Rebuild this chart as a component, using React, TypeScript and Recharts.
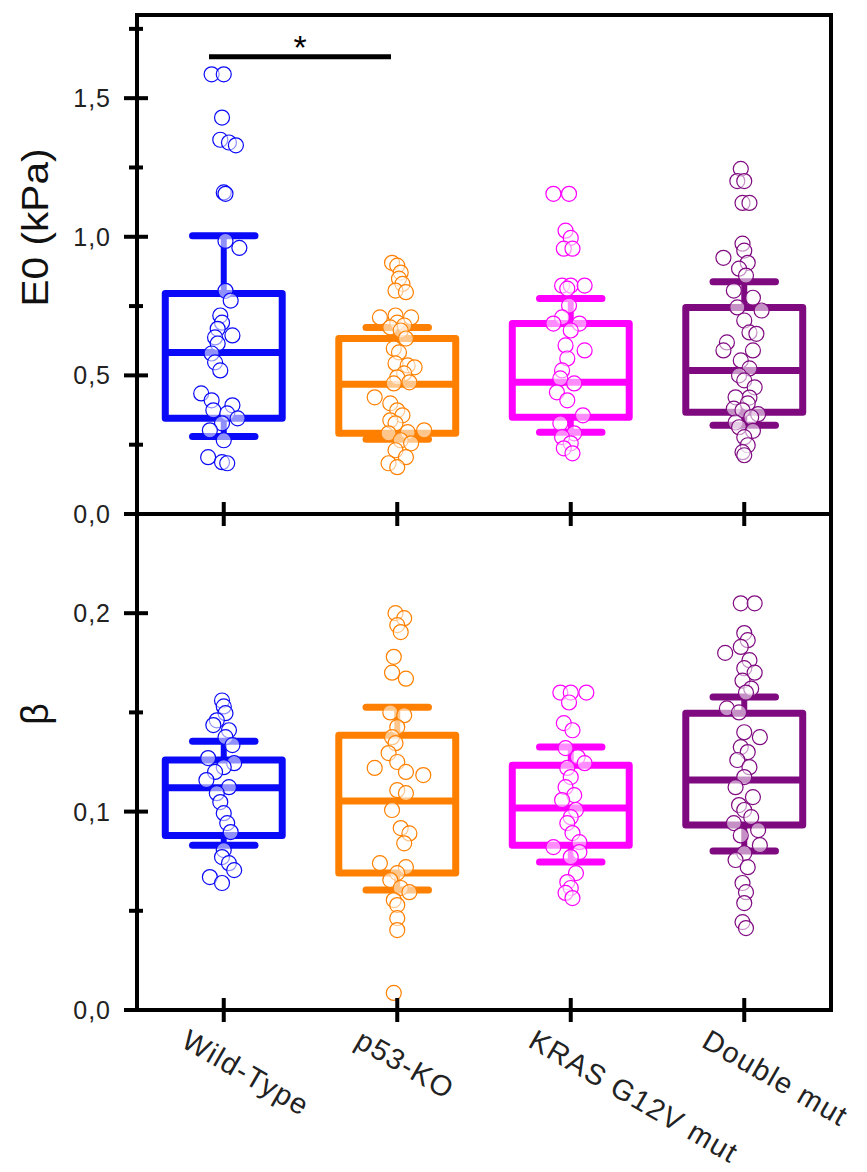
// Two stacked box plots (E0 and beta) with jittered raw points per cell line.
import { ComposedChart, Scatter, XAxis, YAxis, ReferenceArea, ReferenceLine } from 'recharts';

const groups = ['Wild-Type', 'p53-KO', 'KRAS G12V mut', 'Double mut'];
const colors = ['#0a0af8', '#ff8000', '#ff00ff', '#7f0a80'];

const e0Ticks = [0, 0.25, 0.5, 0.75, 1, 1.25, 1.5, 1.75];
const betaTicks = [0, 0.05, 0.1, 0.15, 0.2];

// box stats
const e0Q1 = [0.345, 0.291, 0.349, 0.367];
const e0Median = [0.583, 0.468, 0.475, 0.518];
const e0Q3 = [0.795, 0.633, 0.687, 0.745];
const e0Low = [0.28, 0.27, 0.295, 0.32];
const e0High = [1.004, 0.673, 0.777, 0.838];

const betaQ1 = [0.088, 0.069, 0.083, 0.0932];
const betaMedian = [0.112, 0.1053, 0.1018, 0.1159];
const betaQ3 = [0.126, 0.1385, 0.1234, 0.1496];
const betaLow = [0.083, 0.0605, 0.0746, 0.0801];
const betaHigh = [0.1355, 0.1526, 0.1325, 0.1577];

// raw points: [jitter, value]
const wtE0 = [
  [-0.07, 1.586], [0, 1.586], [-0.01, 1.43], [-0.02, 1.35], [0.03, 1.34], [0.07, 1.33], [0, 1.16], [0.01, 1.155],
  [0.01, 0.985], [0.09, 0.96], [0.01, 0.805], [0.04, 0.77], [-0.02, 0.716], [-0.01, 0.69], [-0.035, 0.668],
  [-0.05, 0.637], [0.05, 0.644], [-0.035, 0.615], [-0.07, 0.579], [-0.05, 0.547], [-0.02, 0.518], [-0.13, 0.435],
  [-0.07, 0.41], [0.05, 0.392], [-0.06, 0.374], [0.02, 0.363], [0.08, 0.345], [-0.01, 0.327], [-0.08, 0.302],
  [0, 0.266], [-0.09, 0.205], [-0.01, 0.187], [0.02, 0.183],
];
const p53E0 = [
  [-0.03, 0.906], [0, 0.896], [0.02, 0.871], [0.01, 0.849], [0.03, 0.83], [-0.01, 0.806], [0.05, 0.8],
  [-0.1, 0.709], [-0.01, 0.716], [0.08, 0.709], [0, 0.69], [0.04, 0.68], [-0.04, 0.673], [0.02, 0.662],
  [0.05, 0.633], [-0.02, 0.597], [0.01, 0.583], [-0.01, 0.543], [0.06, 0.536], [0.1, 0.529], [0.04, 0.507],
  [0, 0.493], [0.07, 0.475], [-0.02, 0.471], [-0.13, 0.421], [-0.04, 0.399], [0, 0.374], [0.03, 0.356],
  [-0.04, 0.338], [-0.01, 0.327], [0.155, 0.302], [0.06, 0.295], [-0.05, 0.291], [0.02, 0.266], [0.08, 0.255],
  [-0.01, 0.23], [0.05, 0.205], [-0.05, 0.183], [0, 0.169],
];
const krasE0 = [
  [-0.1, 1.155], [-0.01, 1.155], [-0.03, 1.022], [0, 0.996], [-0.04, 0.957], [0.01, 0.957], [-0.05, 0.824],
  [0, 0.824], [0.08, 0.824], [-0.02, 0.813], [-0.01, 0.752], [-0.05, 0.709], [-0.1, 0.687], [0.05, 0.687],
  [0, 0.662], [-0.03, 0.608], [0.08, 0.59], [-0.02, 0.561], [-0.05, 0.518], [-0.06, 0.489], [0.02, 0.471],
  [-0.08, 0.439], [-0.02, 0.41], [0.07, 0.356], [-0.06, 0.327], [0.02, 0.291], [-0.05, 0.277], [0, 0.255],
  [-0.04, 0.237], [0.01, 0.219],
];
const doubleE0 = [
  [-0.02, 1.245], [-0.04, 1.201], [0, 1.201], [-0.01, 1.122], [0.03, 1.122], [-0.01, 0.975], [0, 0.95],
  [-0.12, 0.924], [0.02, 0.906], [-0.03, 0.885], [0.01, 0.86], [-0.06, 0.806], [0.05, 0.78], [-0.04, 0.745],
  [0.1, 0.734], [0, 0.698], [0.03, 0.655], [0.07, 0.65], [-0.1, 0.619], [-0.12, 0.59], [0.05, 0.59],
  [-0.02, 0.554], [0.03, 0.525], [-0.03, 0.5], [0, 0.482], [0.06, 0.457], [0.03, 0.42], [-0.05, 0.421],
  [0.02, 0.399], [-0.06, 0.38], [-0.01, 0.374], [0.08, 0.36], [0.04, 0.349], [-0.05, 0.33], [-0.03, 0.313],
  [0.05, 0.3], [0, 0.277], [0.02, 0.248], [-0.01, 0.223], [0, 0.212],
];

const wtBeta = [
  [-0.01, 0.156], [0, 0.153], [0.01, 0.1496], [-0.04, 0.146], [-0.06, 0.1436], [0.03, 0.141], [0.01, 0.1375],
  [0.05, 0.1335], [-0.09, 0.127], [0.06, 0.1244], [0, 0.1224], [-0.05, 0.12], [-0.1, 0.1159], [0.03, 0.1123],
  [-0.04, 0.1093], [-0.02, 0.1048], [0, 0.0992], [0.02, 0.0942], [0.04, 0.0897], [0, 0.0806], [-0.01, 0.0771],
  [0.03, 0.074], [0.06, 0.0705], [-0.08, 0.067], [-0.01, 0.064],
];
const p53Beta = [
  [-0.01, 0.2], [0.04, 0.1975], [0, 0.194], [0.02, 0.1905], [-0.02, 0.178], [-0.03, 0.17], [0.05, 0.167],
  [-0.04, 0.15], [0.04, 0.1486], [0, 0.1426], [-0.03, 0.1375], [-0.01, 0.1345], [-0.05, 0.1295], [0, 0.125],
  [-0.13, 0.122], [0.05, 0.12], [0.15, 0.1184], [0, 0.1108], [0.05, 0.1093], [-0.03, 0.1008], [0.02, 0.0917],
  [0.07, 0.089], [0.04, 0.084], [-0.1, 0.074], [0.05, 0.072], [0, 0.069], [-0.04, 0.0655], [0.02, 0.0615],
  [0.07, 0.0594], [-0.02, 0.0554], [0, 0.0529], [0, 0.0463], [0, 0.0403], [-0.02, 0.0086],
];
const krasBeta = [
  [-0.06, 0.16], [0, 0.16], [0.09, 0.16], [-0.01, 0.155], [-0.04, 0.1446], [0.01, 0.141], [-0.03, 0.132],
  [0.04, 0.1275], [0.08, 0.1244], [-0.02, 0.122], [0, 0.1174], [-0.03, 0.1123], [0.02, 0.1083], [-0.05, 0.1058],
  [0.03, 0.1008], [0, 0.0972], [-0.02, 0.0942], [0.01, 0.0892], [0.05, 0.0846], [-0.1, 0.0821], [0.05, 0.0796],
  [0, 0.0771], [0.03, 0.069], [-0.02, 0.0645], [0, 0.0615], [-0.03, 0.059], [0.01, 0.0564],
];
const doubleBeta = [
  [-0.02, 0.205], [0.06, 0.205], [0, 0.19], [0.02, 0.1864], [-0.02, 0.183], [-0.11, 0.18], [0.03, 0.1763],
  [0, 0.1723], [0.06, 0.17], [-0.01, 0.166], [0.04, 0.162], [0.01, 0.16], [-0.1, 0.152], [-0.03, 0.15],
  [0, 0.14], [0.09, 0.1375], [-0.02, 0.1325], [0.02, 0.13], [-0.04, 0.126], [0.03, 0.1224], [0, 0.1174],
  [-0.05, 0.1123], [0.05, 0.1073], [-0.03, 0.1033], [0, 0.1008], [0.04, 0.0972], [-0.06, 0.0942],
  [0.08, 0.0907], [-0.02, 0.088], [0.09, 0.0831], [0, 0.079], [-0.05, 0.0756], [0.02, 0.072], [-0.01, 0.064],
  [0.01, 0.0594], [0, 0.0539], [-0.01, 0.0443], [0.01, 0.0413],
];

const FONT = "'Liberation Sans', Arial, sans-serif";
const BOX_HALF = 0.337;
const CAP_HALF = 0.18;

const fmt = (v: number) => v.toFixed(1).replace('.', ',');

function YTick(props: any) {
  const { x, y, payload, step } = props;
  const v = payload.value;
  const major = Math.abs(v / step - Math.round(v / step)) < 1e-6;
  return (
    <g>
      <line x1={major ? x - 13 : x - 8} x2={major ? x + 11 : x + 6} y1={y} y2={y} stroke="#000" strokeWidth={4} />
      {major && (
        <text x={x - 26} y={y} textAnchor="end" dominantBaseline="central" fontSize={25} letterSpacing={1} fontFamily={FONT} fill="#222">
          {fmt(v)}
        </text>
      )}
    </g>
  );
}

function XTick(props: any) {
  const { x, y, payload, showLabel } = props;
  const tx = x - 44;
  const ty = y + 36;
  return (
    <g>
      <line x1={x} x2={x} y1={y - 12} y2={y + 12} stroke="#000" strokeWidth={4} />
      {showLabel && (
        <text x={tx} y={ty} transform={`rotate(30 ${tx} ${ty})`} fontSize={29} letterSpacing={1.4} fontFamily={FONT} fill="#222">
          {groups[payload.value - 1]}
        </text>
      )}
    </g>
  );
}

function Panel(props: any) {
  const { top, height, marginTop, xAxisHeight, yMax, yTicks, step, pts, q1, med, q3, lo, hi, title, titleDy, titleSize, titleLength, showLabels, sig } = props;

  const renderTitle = (p: any) => {
    const vb = p.viewBox;
    const cx = 35;
    const cy = vb.y + vb.height / 2 + titleDy;
    return (
      <text
        x={cx}
        y={cy}
        transform={`rotate(-90 ${cx} ${cy})`}
        textAnchor="middle"
        dominantBaseline="central"
        fontSize={titleSize}
        fontFamily={FONT}
        fill="#111"
        textLength={titleLength}
        lengthAdjust="spacingAndGlyphs"
      >
        {title}
      </text>
    );
  };

  return (
    <div style={{ position: 'absolute', left: 0, top }}>
      <ComposedChart width={867} height={height} margin={{ top: marginTop, right: 36, bottom: 0, left: 0 }}>
        <XAxis
          type="number"
          dataKey="x"
          domain={[0.5, 4.5]}
          ticks={[1, 2, 3, 4]}
          interval={0}
          height={xAxisHeight}
          axisLine={false}
          tickLine={false}
          tickSize={0}
          tickMargin={0}
          tick={(p: any) => <XTick {...p} showLabel={showLabels} />}
          allowDataOverflow
        />
        <YAxis
          type="number"
          dataKey="y"
          domain={[0, yMax]}
          ticks={yTicks}
          interval={0}
          width={137}
          axisLine={false}
          tickLine={false}
          tickSize={0}
          tickMargin={0}
          tick={(p: any) => <YTick {...p} step={step} />}
          label={{ value: title, content: renderTitle }}
          allowDataOverflow
        />
        <ReferenceArea x1={0.5} x2={4.5} y1={0} y2={yMax} fill="none" stroke="#000" strokeWidth={4} />
        {groups.map((g, i) => {
          const x = i + 1;
          const c = colors[i];
          return [
            <ReferenceLine key={g + 'wu'} segment={[{ x, y: q3[i] }, { x, y: hi[i] }]} stroke={c} strokeWidth={6} />,
            <ReferenceLine key={g + 'wl'} segment={[{ x, y: q1[i] }, { x, y: lo[i] }]} stroke={c} strokeWidth={6} />,
            <ReferenceLine key={g + 'cu'} segment={[{ x: x - CAP_HALF, y: hi[i] }, { x: x + CAP_HALF, y: hi[i] }]} stroke={c} strokeWidth={7} strokeLinecap="round" />,
            <ReferenceLine key={g + 'cl'} segment={[{ x: x - CAP_HALF, y: lo[i] }, { x: x + CAP_HALF, y: lo[i] }]} stroke={c} strokeWidth={7} strokeLinecap="round" />,
            <ReferenceArea key={g + 'box'} x1={x - BOX_HALF} x2={x + BOX_HALF} y1={q1[i]} y2={q3[i]} fill="none" stroke={c} strokeWidth={7} strokeLinejoin="round" />,
            <ReferenceLine key={g + 'med'} segment={[{ x: x - BOX_HALF, y: med[i] }, { x: x + BOX_HALF, y: med[i] }]} stroke={c} strokeWidth={7} />,
          ];
        })}
        {sig && (
          <ReferenceLine
            segment={[{ x: sig[0], y: sig[2] }, { x: sig[1], y: sig[2] }]}
            stroke="#000"
            strokeWidth={5}
            label={{ value: '*', position: 'top', fontSize: 34, fill: '#000', fontFamily: FONT, offset: -2 }}
          />
        )}
        {groups.map((g, i) => (
          <Scatter
            key={g}
            data={pts[i].map(([dx, v]: number[]) => ({ x: i + 1 + dx, y: v }))}
            isAnimationActive={false}
            shape={(p: any) => (
              <circle cx={p.cx} cy={p.cy} r={7.5} fill="#fff" fillOpacity={0.55} stroke={colors[i]} strokeWidth={1.2} />
            )}
          />
        ))}
      </ComposedChart>
    </div>
  );
}

export default function App() {
  return (
    <div style={{ position: 'absolute', left: 0, top: 0, width: 867, height: 1172, background: '#fff' }}>
      <Panel
        top={0}
        height={540}
        marginTop={15}
        xAxisHeight={26}
        yMax={1.8}
        yTicks={e0Ticks}
        step={0.5}
        pts={[wtE0, p53E0, krasE0, doubleE0]}
        q1={e0Q1}
        med={e0Median}
        q3={e0Q3}
        lo={e0Low}
        hi={e0High}
        title="E0 (kPa)"
        titleDy={-37}
        titleSize={36}
        titleLength={158}
        showLabels={false}
        sig={[0.915, 1.964, 1.649]}
      />
      <Panel
        top={488}
        height={684}
        marginTop={26}
        xAxisHeight={162}
        yMax={0.25}
        yTicks={betaTicks}
        step={0.1}
        pts={[wtBeta, p53Beta, krasBeta, doubleBeta]}
        q1={betaQ1}
        med={betaMedian}
        q3={betaQ3}
        lo={betaLow}
        hi={betaHigh}
        title="β"
        titleDy={-48}
        titleSize={38}
        showLabels
      />
    </div>
  );
}
